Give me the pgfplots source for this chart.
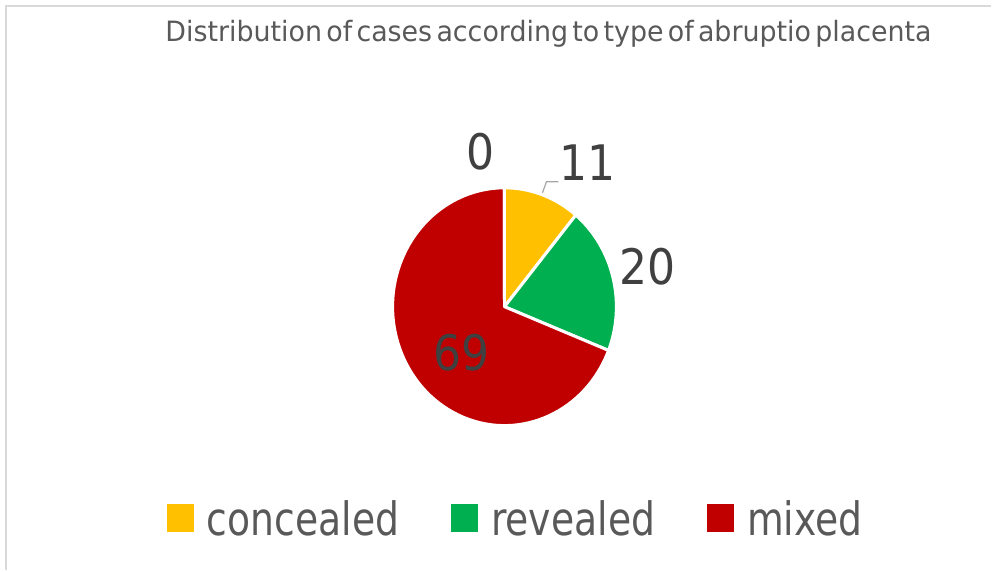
\documentclass[border=0pt]{standalone}
\usepackage{pgfplots}
\pgfplotsset{compat=1.18}
\usepackage{pgfplotstable}
\usepackage{fontspec}
\setmainfont{DejaVu Sans}
\newfontfamily\titlefont[FakeStretch=0.96,WordSpace=0.5]{DejaVu Sans}
\newfontfamily\legfont[FakeStretch=0.82]{DejaVu Sans}
\newfontfamily\labfont[FakeStretch=0.9]{DejaVu Sans}
\definecolor{cYel}{HTML}{FFC000}
\definecolor{cGrn}{HTML}{00B050}
\definecolor{cRed}{HTML}{C00000}
\definecolor{txtA}{HTML}{595959}
\definecolor{txtB}{HTML}{404040}
\definecolor{frameC}{HTML}{D9D9D9}
\definecolor{leadC}{HTML}{A6A6A6}

\pgfplotstableread{
label value
concealed 11
revealed 20
mixed 69
blank 0
}\piedata
\pgfplotstablegetelem{0}{value}\of\piedata\let\vA\pgfplotsretval
\pgfplotstablegetelem{1}{value}\of\piedata\let\vB\pgfplotsretval
\pgfplotstablegetelem{2}{value}\of\piedata\let\vC\pgfplotsretval
\pgfplotstablegetelem{3}{value}\of\piedata\let\vD\pgfplotsretval
\pgfmathsetmacro\vT{\vA+\vB+\vC+\vD}
\pgfmathsetmacro\aA{90}
\pgfmathsetmacro\aB{\aA-360*(\vA/\vT)}
\pgfmathsetmacro\aC{\aB-360*(\vB/\vT)}
\pgfmathsetmacro\aD{\aC-360*(\vC/\vT)}
\pgfmathsetmacro\aE{\aD-360*(\vD/\vT)}
\pgfmathtruncatemacro\lA{\vA}
\pgfmathtruncatemacro\lB{\vB}
\pgfmathtruncatemacro\lC{\vC}
\pgfmathtruncatemacro\lD{\vD}
\newcommand\sector[3]{% color, start, end
  \filldraw[fill=#1, draw=white, line width=3bp, line join=round]
    (axis cs:505,264) -- ++(#2:112bp and 119bp)
    arc[start angle=#2, end angle=#3, x radius=112bp, y radius=119bp] -- cycle;}

\begin{document}
\begin{tikzpicture}
\begin{axis}[
  scale only axis, width=992bp, height=571bp,
  xmin=0, xmax=992, ymin=0, ymax=571,
  hide axis, clip=false,
  legend image code/.code={\fill[#1, draw=none] (0bp,-14bp) rectangle (27bp,14bp);},
  legend style={at={(axis cs:167,52)}, anchor=west, draw=none, fill=none,
    legend columns=3, font=\legfont\fontsize{46bp}{52bp}\selectfont,
    text=txtA, inner sep=0pt, nodes={inner sep=0pt},
    /tikz/every odd column/.append style={column sep=13bp},
    /tikz/every even column/.append style={column sep=52bp}},
]
\path (axis cs:0,0) rectangle (axis cs:992,571);
\draw[frameC, line width=2bp] (axis cs:6.5,0) -- (axis cs:6.5,564.5) -- (axis cs:992,564.5);
\addlegendimage{fill=cYel, draw=none}\addlegendentry{concealed}
\addlegendimage{fill=cGrn, draw=none}\addlegendentry{revealed}
\addlegendimage{fill=cRed, draw=none}\addlegendentry{mixed}
\sector{cYel}{\aA}{\aB}
\sector{cGrn}{\aB}{\aC}
\sector{cRed}{\aC}{\aD}
\sector{white}{\aD}{\aE}
\node[anchor=base, text=txtA, inner sep=0pt, font=\titlefont\fontsize{28bp}{33bp}\selectfont]
  at (axis cs:549,529.3) {Distribution of cases according to type of abruptio placenta};
\draw[leadC, line width=1.2bp] (axis cs:543,378) -- (axis cs:547,389) -- (axis cs:559,389);
\begin{scope}[every node/.style={text=txtB, inner sep=0pt, font=\labfont\fontsize{49bp}{56bp}\selectfont}]
\node at (axis cs:481,419) {\lD};
\node at (axis cs:588,408) {\lA};
\node at (axis cs:648,304) {\lB};
\node at (axis cs:462,218) {\lC};
\end{scope}
\end{axis}
\end{tikzpicture}
\end{document}
